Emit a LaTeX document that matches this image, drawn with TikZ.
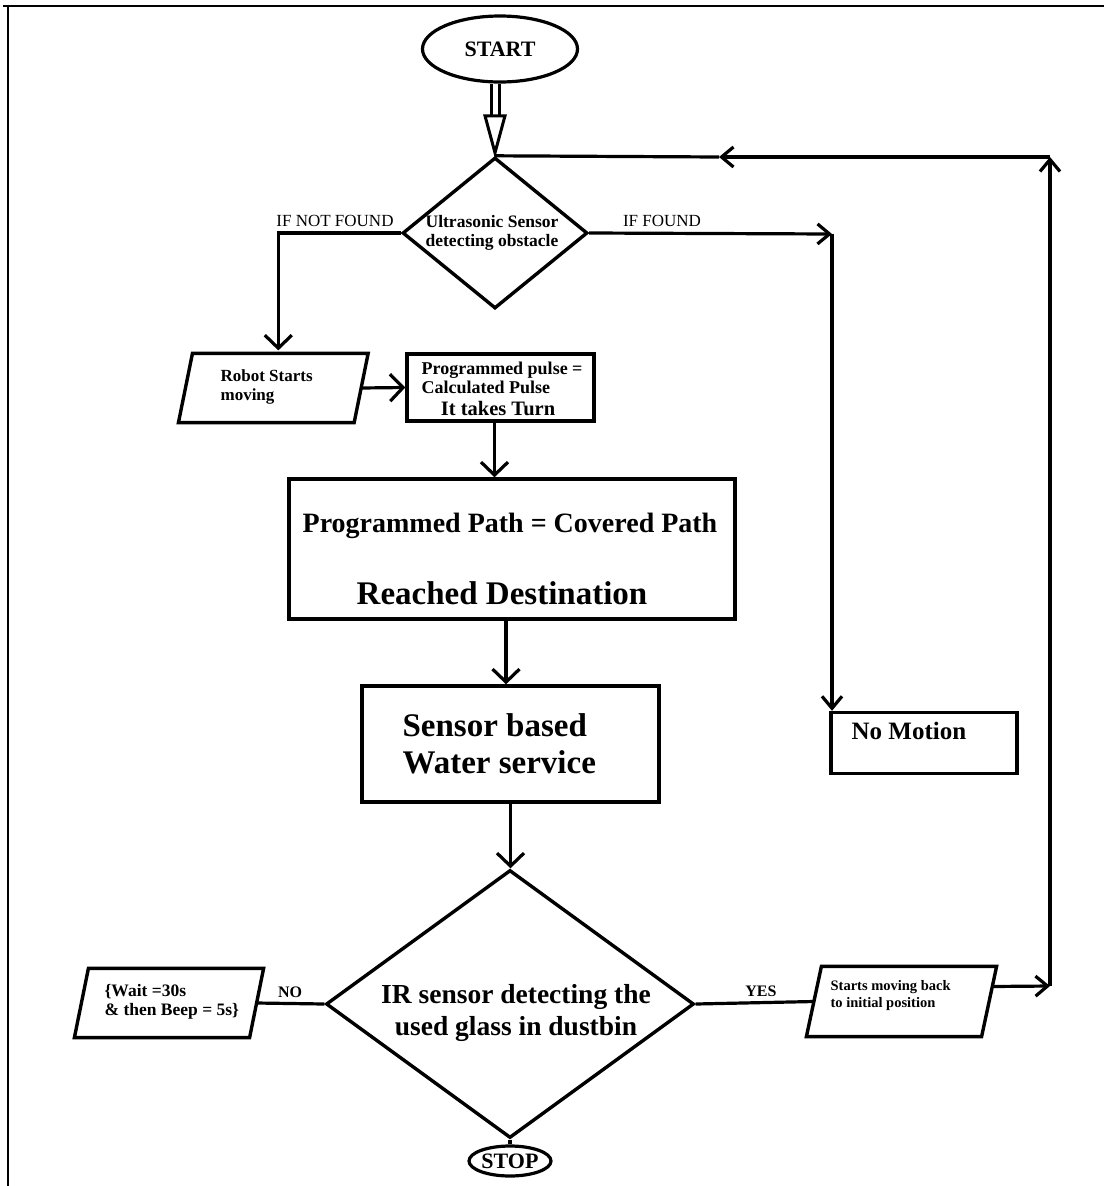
\documentclass[tikz,border=0pt]{standalone}
\usepackage{fontspec}
\setmainfont{Liberation Serif}
\usetikzlibrary{shapes.geometric,arrows.meta,calc}
\newcommand\fsz[2]{\fontsize{#1}{#2}\selectfont}
% slanted input/output box drawn around a plain (invisible) node
\newcommand\slantbox[2]{\draw[line width=3.4pt,line join=miter]
  ($(#1.north west)+(#2,0)$) -- ($(#1.north east)+(#2,0)$) --
  ($(#1.south east)+(-#2,0)$) -- ($(#1.south west)+(-#2,0)$) -- cycle;}
\begin{document}
\begin{tikzpicture}[x=1pt,y=-1pt,
  line width=3.2pt,
  box/.style={draw,rectangle,line width=3.4pt,inner sep=0pt},
  term/.style={draw,ellipse,line width=3.2pt,inner sep=0pt,font=\bfseries\fsz{22}{24}},
  decide/.style={draw,diamond,line width=3.4pt,inner sep=0pt},
  slot/.style={rectangle,inner sep=0pt},
  txt/.style={inner sep=0pt,font=\bfseries},
  lbl/.style={inner sep=0pt},
  arrb/.style={-{Straight Barb[length=13pt,width=27pt]}},
  arrs/.style={-{Straight Barb[length=12pt,width=20pt]}}]
\useasboundingbox (0,0) rectangle (1104,1186);
% page frame
\draw[line width=1.6pt] (3,6) -- (1104,6);
\draw[line width=1.6pt] (8,6) -- (8,1186);

% shapes
\node[term,minimum width=155,minimum height=66] (start) at (500,49) {START};
\node[decide,minimum width=185,minimum height=151] (d1) at (495,233) {};
\node[slot,minimum width=172.5,minimum height=66] (robot) at (273.3,388) {};
\node[box,minimum width=187,minimum height=67] (pulse) at (500.5,387.5) {};
\node[box,minimum width=446,minimum height=140] (big) at (512,549) {};
\node[box,minimum width=297,minimum height=116] (sensor) at (510.5,744) {};
\node[box,minimum width=186,minimum height=61] (nomo) at (924,743) {};
\node[decide,minimum width=368,minimum height=268] (d2) at (510,1004) {};
\node[term,minimum width=82,minimum height=30] (stop) at (510,1161) {STOP};
\node[slot,minimum width=172,minimum height=66] (wait) at (169,1003) {};
\node[slot,minimum width=172,minimum height=67] (back) at (901.5,1001.5) {};
\slantbox{robot}{7}
\slantbox{wait}{7}
\slantbox{back}{7.5}

% texts
\node[txt,align=center,font=\bfseries\fsz{17.5}{19}] (t1) at (492,233)
  {Ultrasonic Sensor\\detecting obstacle};
\node[txt,anchor=west,align=left,font=\bfseries\fsz{17}{19}] (t2) at (219,386.5)
  {Robot Starts\\moving};
\node[txt,anchor=west,align=left,font=\bfseries\fsz{18}{19}] (t3) at (420,377.5)
  {Programmed pulse =\\Calculated Pulse};
\node[txt,font=\bfseries\fsz{20.5}{22}] (t4) at (498,409) {It takes Turn};
\node[txt,font=\bfseries\fsz{28}{30}] (t5) at (510,526) {Programmed Path = Covered Path};
\node[txt,font=\bfseries\fsz{33}{35}] (t6) at (502,593) {Reached Destination};
\node[txt,anchor=west,align=left,font=\bfseries\fsz{33}{37}] (t7) at (401,743.5)
  {Sensor based\\Water service};
\node[txt,anchor=west,font=\bfseries\fsz{25}{27}] (t8) at (850,731) {No Motion};
\node[txt,align=center,font=\bfseries\fsz{27.5}{32}] (t9) at (516,1013)
  {IR sensor detecting the\\used glass in dustbin};
\node[txt,anchor=west,align=left,font=\bfseries\fsz{17.5}{19}] (t10) at (103,1002)
  {\{Wait =30s\\\& then Beep = 5s\}};
\node[txt,anchor=west,align=left,font=\bfseries\fsz{14.5}{17}] (t11) at (829,995.5)
  {Starts moving back\\to initial position};
\node[lbl,font=\fsz{17}{19}] (lnf) at (335,221) {IF NOT FOUND};
\node[lbl,font=\fsz{17}{19}] (lf) at (662,221) {IF FOUND};
\node[txt,font=\bfseries\fsz{16}{18}] (lno) at (290,992) {NO};
\node[txt,font=\bfseries\fsz{16}{18}] (lyes) at (761,991) {YES};

% corners and bends of the connectors
\coordinate (fc) at (832,234);
\coordinate (rb) at (1050,986);
\coordinate (rt) at (1050,157);
\coordinate (tmid) at (719,157);
\coordinate (pa) at ($(pulse.south)+(-6,0)$);
\coordinate (ba) at ($(big.south)+(-6,0)$);
\coordinate (ra) at ($(robot.north)+(5,-3)$);
\coordinate (bk) at ($(back.east)+(3,-15)$);

% double arrow from START
\coordinate (dtop) at ($(d1.north)+(0,-40)$);
\draw[line width=3pt,double distance=5pt] (d1.north |- start.south) -- (dtop);
\draw[line width=3pt,line join=miter,fill=white]
  ($(dtop)+(-10,0)$) -- ($(d1.north)+(0,-3)$) -- ($(dtop)+(10,0)$) -- cycle;

% connectors
\draw[arrb] (d1.west) -| (ra);
\draw[arrs] (d1.east) -- (fc);
\draw[arrs] (fc) -- (fc |- nomo.north);
\draw[arrb] (robot.east) -- (pulse.west);
\draw[arrb] (pa) -- (pa |- big.north);
\draw[arrb] (ba) -- (ba |- sensor.north);
\draw[arrb] (sensor.south) -- (sensor.south |- d2.north);
\draw (d2.west) -- (wait.east);
\draw (d2.east) -- (back.west);
\draw (d2.south) -- (stop.north);
\draw[arrs] (bk) -- (rb);
\draw[arrs] (rb) -- (rt);
\draw[arrs] (rt) -- (tmid);
\draw (tmid) -- (d1.north);
\end{tikzpicture}
\end{document}
